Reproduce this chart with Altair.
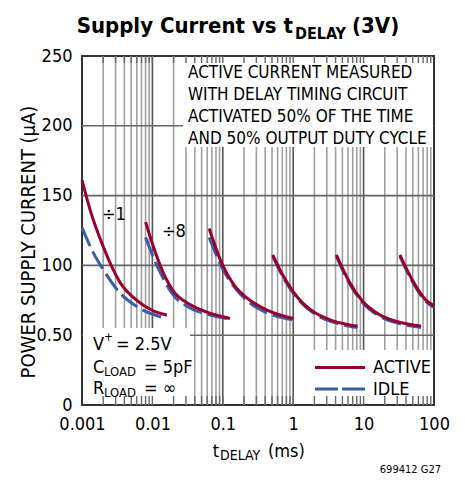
import altair as alt
import pandas as pd

FONT = "'Liberation Sans Narrow', 'DejaVu Sans Condensed', 'Roboto Condensed', 'Arial Narrow', sans-serif"

# ---- data (t in ms, current in uA) ----
div1_t_active = [0.001, 0.0013, 0.002, 0.0035, 0.006, 0.0103, 0.016]
div1_i_active = [161, 140, 113.5, 87.5, 75, 67.5, 64.5]
div1_t_idle = [0.001, 0.00145, 0.002, 0.0035, 0.006, 0.016]
div1_i_idle = [127, 109, 97, 80, 70.5, 62]

div8_t_active = [0.008, 0.0109, 0.0151, 0.0196, 0.0342, 0.0597, 0.1265]
div8_i_active = [131, 110, 92, 82, 72, 66.5, 62]
div8_t_idle = [0.008, 0.0116, 0.0196, 0.0342, 0.0597, 0.1265]
div8_i_idle = [120, 100, 79, 69.5, 65, 61.5]

div64_t_active = [0.064, 0.0964, 0.1396, 0.243, 0.425, 0.993]
div64_i_active = [126.5, 101.7, 87, 75, 68, 62]
div64_t_idle = [0.064, 0.1007, 0.149, 0.243, 0.425, 0.993]
div64_i_idle = [120, 97, 84, 73, 66, 61]

div512_t = [0.512, 0.768, 1.18, 2.05, 3.58, 8.19]
div512_i_active = [107.5, 90, 76.5, 66, 60.5, 56.5]
div512_i_idle = [106.5, 89, 75.5, 65, 59.5, 55.5]

div4096_t = [4.096, 6.14, 9.42, 16.4, 28.7, 65.5]
div4096_i_active = [107.5, 89, 75, 65, 60, 56.5]
div4096_i_idle = [106.5, 88, 74, 64, 59, 55.5]

div32768_t = [32.768, 49.2, 75.4, 100]
div32768_i_active = [107.5, 89.5, 75.5, 71]
div32768_i_idle = [106.5, 88.5, 74.5, 70]

x_tick_values = [0.001, 0.01, 0.1, 1, 10, 100]
y_tick_values = [0, 50, 100, 150, 200, 250]
decades = [0.001, 0.01, 0.1, 1, 10]
minor_mult = [2, 3, 4, 5, 6, 7, 8, 9]

ACTIVE_COLOR = "#98002e"
IDLE_COLOR = "#3d5ca8"


def frame(seg, ts, vs):
    return pd.DataFrame({"t": ts, "i": vs, "seg": seg})


active_df = pd.concat([
    frame("1", div1_t_active, div1_i_active),
    frame("8", div8_t_active, div8_i_active),
    frame("64", div64_t_active, div64_i_active),
    frame("512", div512_t, div512_i_active),
    frame("4096", div4096_t, div4096_i_active),
    frame("32768", div32768_t, div32768_i_active),
])
idle_df = pd.concat([
    frame("1", div1_t_idle, div1_i_idle),
    frame("8", div8_t_idle, div8_i_idle),
    frame("64", div64_t_idle, div64_i_idle),
    frame("512", div512_t, div512_i_idle),
    frame("4096", div4096_t, div4096_i_idle),
    frame("32768", div32768_t, div32768_i_idle),
])

minor_vals = [d * m for d in decades for m in minor_mult]
major_vals = decades[1:]
all_tick_vals = minor_vals + major_vals

xscale = alt.Scale(type="log", domain=[0.001, 100], nice=False)
yscale = alt.Scale(domain=[0, 250], nice=False)

W, H = 352, 349

x_axis = alt.Axis(values=x_tick_values, format="~g", title=None, grid=False, domain=False,
                  ticks=False, labelFont=FONT, labelFontSize=18, labelColor="black",
                  labelPadding=10, labelFlush=False, labelOverlap=False)
y_axis = alt.Axis(values=y_tick_values, title=None, grid=False, domain=False, ticks=False,
                  labelFont=FONT, labelFontSize=18, labelColor="black", labelPadding=10,
                  labelExpr="datum.value == 50 ? '0.50' : datum.label")

X = lambda f: alt.X(f, scale=xscale, axis=x_axis)
Y = lambda f: alt.Y(f, scale=yscale, axis=y_axis)

minor_grid = alt.Chart(pd.DataFrame({"v": minor_vals})).mark_rule(
    color="#a0a0a0", strokeWidth=1.6).encode(x=X("v:Q"))
major_grid = alt.Chart(pd.DataFrame({"v": major_vals})).mark_rule(
    color="#555555", strokeWidth=1.6).encode(x=X("v:Q"))
h_grid = alt.Chart(pd.DataFrame({"v": y_tick_values[1:-1]})).mark_rule(
    color="#666666", strokeWidth=1.6).encode(y=Y("v:Q"))


def white_box(x1, x2, y1, y2):
    return alt.Chart(pd.DataFrame({"a": [0]})).mark_rect(color="white").encode(
        x=alt.value(x1), x2=alt.value(x2), y=alt.value(y1), y2=alt.value(y2))


boxes = [
    white_box(101, W - 1, 1, 91),
    white_box(1, 108, 272, H - 1),
    white_box(218, W - 1, 294, H - 1),
]

tick_df = pd.DataFrame({"v": all_tick_vals})
top_ticks = alt.Chart(tick_df).mark_rule(color="#666666", strokeWidth=1.4).encode(
    x=X("v:Q"), y=alt.value(0), y2=alt.value(7))
bot_ticks = alt.Chart(tick_df).mark_rule(color="#666666", strokeWidth=1.4).encode(
    x=X("v:Q"), y=alt.value(H - 9), y2=alt.value(H))

idle_lines = alt.Chart(idle_df).mark_line(
    color=IDLE_COLOR, strokeWidth=3, strokeDash=[20, 6], interpolate="monotone").encode(
    x=X("t:Q"), y=Y("i:Q"), detail="seg:N")
active_lines = alt.Chart(active_df).mark_line(
    color=ACTIVE_COLOR, strokeWidth=3, interpolate="monotone").encode(
    x=X("t:Q"), y=Y("i:Q"), detail="seg:N")


def txt(s, x, y, size=18, align="left", baseline="alphabetic", weight="normal", angle=0,
        color="black"):
    return alt.Chart(pd.DataFrame({"a": [0]})).mark_text(
        text=s, font=FONT, fontSize=size, align=align, baseline=baseline,
        fontWeight=weight, angle=angle, color=color).encode(
        x=alt.value(x), y=alt.value(y))


texts = [
    # title
    txt("Supply Current vs t", 211, -23, size=22, align="right", weight="bold"),
    txt("DELAY", 213, -17, size=16, weight="bold"),
    txt("(3V)", 270, -23, size=22, weight="bold"),
    # annotation box
    txt("ACTIVE CURRENT MEASURED", 106, 22, size=17),
    txt("WITH DELAY TIMING CIRCUIT", 106, 44, size=17),
    txt("ACTIVATED 50% OF THE TIME", 106, 66, size=17),
    txt("AND 50% OUTPUT DUTY CYCLE", 106, 87.5, size=17),
    # divider labels
    txt("÷1", 20, 164),
    txt("÷8", 80, 181),
    # conditions
    txt("V", 11, 294),
    txt("+", 22, 285, size=12),
    txt("= 2.5V", 34, 294),
    txt("C", 11, 317),
    txt("LOAD", 22, 320, size=13),
    txt("= 5pF", 62, 317),
    txt("R", 11, 338),
    txt("LOAD", 22, 341, size=13),
    txt("= ∞", 62, 338),
    # legend labels
    txt("ACTIVE", 291, 317),
    txt("IDLE", 291, 339),
    # axis titles
    txt("POWER SUPPLY CURRENT (μA)", -53, 186, size=20, align="center", baseline="middle",
        angle=270),
    txt("t", 137, 401, size=18, align="right"),
    txt("DELAY", 138, 404, size=14),
    txt("(ms)", 186, 401, size=18),
    # footer
    txt("699412 G27", 359, 417, size=11, align="right"),
]

legend_active = alt.Chart(pd.DataFrame({"a": [0]})).mark_rule(
    color=ACTIVE_COLOR, strokeWidth=3).encode(
    x=alt.value(233), x2=alt.value(283), y=alt.value(311.5))
legend_idle = alt.Chart(pd.DataFrame({"a": [0]})).mark_rule(
    color=IDLE_COLOR, strokeWidth=3, strokeDash=[23, 4]).encode(
    x=alt.value(233), x2=alt.value(283), y=alt.value(333))

chart = alt.layer(
    minor_grid, major_grid, h_grid, *boxes, top_ticks, bot_ticks,
    idle_lines, active_lines, legend_active, legend_idle, *texts
).properties(
    width=W, height=H,
    autosize=alt.AutoSizeParams(type="none"),
    padding={"left": 74, "top": 48, "right": 20, "bottom": 72},
).configure_view(stroke="#333333", strokeWidth=2)

chart.save("out.html", embed_options={"renderer": "svg", "actions": False})
